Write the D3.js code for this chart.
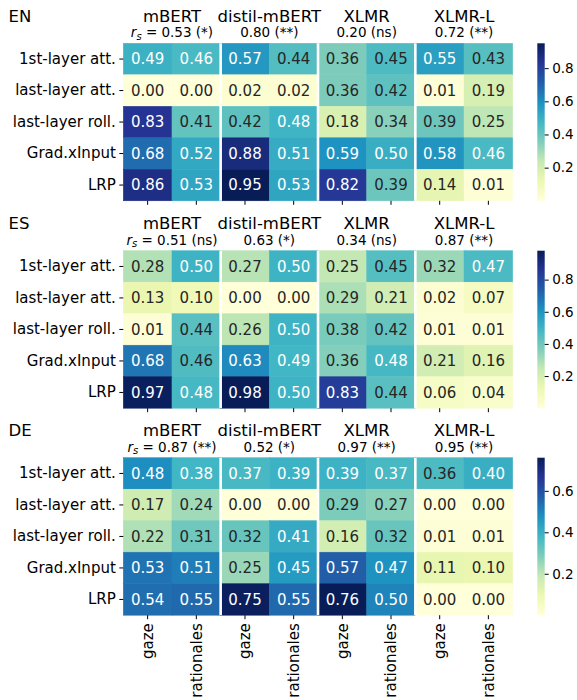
<!DOCTYPE html>
<html>
<head>
<meta charset="utf-8">
<script src="https://cdn.jsdelivr.net/npm/d3@7"></script>
<style>
  body { margin: 0; background: #fff; }
  svg { display: block; font-family: "DejaVu Sans", sans-serif; }
</style>
</head>
<body>
<svg id="chart" width="577" height="700"></svg>
<script>
// Agreement between attribution methods and human importance (gaze / rationales)
const languages = ["EN", "ES", "DE"];
const models = ["mBERT", "distil-mBERT", "XLMR", "XLMR-L"];
const sources = ["gaze", "rationales"];
const methods = ["1st-layer att.", "last-layer att.", "last-layer roll.", "Grad.xInput", "LRP"];

// one row per method, columns: model x source
const valuesEN = [
  [0.49, 0.46, 0.57, 0.44, 0.36, 0.45, 0.55, 0.43],
  [0.00, 0.00, 0.02, 0.02, 0.36, 0.42, 0.01, 0.19],
  [0.83, 0.41, 0.42, 0.48, 0.18, 0.34, 0.39, 0.25],
  [0.68, 0.52, 0.88, 0.51, 0.59, 0.50, 0.58, 0.46],
  [0.86, 0.53, 0.95, 0.53, 0.82, 0.39, 0.14, 0.01]
];
const valuesES = [
  [0.28, 0.50, 0.27, 0.50, 0.25, 0.45, 0.32, 0.47],
  [0.13, 0.10, 0.00, 0.00, 0.29, 0.21, 0.02, 0.07],
  [0.01, 0.44, 0.26, 0.50, 0.38, 0.42, 0.01, 0.01],
  [0.68, 0.46, 0.63, 0.49, 0.36, 0.48, 0.21, 0.16],
  [0.97, 0.48, 0.98, 0.50, 0.83, 0.44, 0.06, 0.04]
];
const valuesDE = [
  [0.48, 0.38, 0.37, 0.39, 0.39, 0.37, 0.36, 0.40],
  [0.17, 0.24, 0.00, 0.00, 0.29, 0.27, 0.00, 0.00],
  [0.22, 0.31, 0.32, 0.41, 0.16, 0.32, 0.01, 0.01],
  [0.53, 0.51, 0.25, 0.45, 0.57, 0.47, 0.11, 0.10],
  [0.54, 0.55, 0.75, 0.55, 0.76, 0.50, 0.00, 0.00]
];

// Spearman correlation between gaze and rationale rankings, per model
const correlationsEN = ["0.53 (*)", "0.80 (**)", "0.20 (ns)", "0.72 (**)"];
const correlationsES = ["0.51 (ns)", "0.63 (*)", "0.34 (ns)", "0.87 (**)"];
const correlationsDE = ["0.87 (**)", "0.52 (*)", "0.97 (**)", "0.95 (**)"];

const colorbarTicks = [0.2, 0.4, 0.6, 0.8];
const ylgnbu = ["#ffffd9", "#edf8b1", "#c7e9b4", "#7fcdbb", "#41b6c4",
                "#1d91c0", "#225ea8", "#253494", "#081d58"];

const panels = [
  { lang: languages[0], values: valuesEN, corr: correlationsEN },
  { lang: languages[1], values: valuesES, corr: correlationsES },
  { lang: languages[2], values: valuesDE, corr: correlationsDE }
];

// layout
const heatLeft = 123.3, heatRight = 512.7, heatH = 157.5;
const panelTops = [43.3, 250.7, 457.7];
const cbLeft = 537.3, cbW = 7.4;
const textDark = "#262626";

const svg = d3.select("#chart");
const defs = svg.append("defs");

const columns = [];
models.forEach(m => sources.forEach(s => columns.push(m + "|" + s)));

const x = d3.scaleBand().domain(columns).range([heatLeft, heatRight]).padding(0);
const groupX = d3.scaleBand().domain(models).range([heatLeft, heatRight]).padding(0);

// relative luminance, used to pick a readable annotation colour
function luminance(c) {
  const rgb = d3.rgb(c);
  const lin = v => { v /= 255; return v <= 0.03928 ? v / 12.92 : Math.pow((v + 0.055) / 1.055, 2.4); };
  return 0.2126 * lin(rgb.r) + 0.7152 * lin(rgb.g) + 0.0722 * lin(rgb.b);
}

panels.forEach((p, pi) => {
  const top = panelTops[pi];
  const g = svg.append("g");
  const y = d3.scaleBand().domain(methods).range([top, top + heatH]).padding(0);

  const flat = p.values.flat();
  const vmin = d3.min(flat), vmax = d3.max(flat);
  const color = d3.scaleLinear()
    .domain(ylgnbu.map((_, i) => vmin + i / (ylgnbu.length - 1) * (vmax - vmin)))
    .range(ylgnbu)
    .interpolate(d3.interpolateRgb)
    .clamp(true);

  const cells = [];
  p.values.forEach((row, ri) => row.forEach((v, ci) => cells.push({ method: methods[ri], col: columns[ci], v })));

  g.selectAll("rect.cell").data(cells).join("rect")
    .attr("class", "cell")
    .attr("x", d => x(d.col))
    .attr("y", d => y(d.method))
    .attr("width", x.bandwidth())
    .attr("height", y.bandwidth())
    .attr("fill", d => color(d.v))
    .attr("stroke", d => color(d.v))
    .attr("stroke-width", 0.5);

  g.selectAll("text.val").data(cells).join("text")
    .attr("class", "val")
    .attr("x", d => x(d.col) + x.bandwidth() / 2)
    .attr("y", d => y(d.method) + y.bandwidth() / 2)
    .attr("dy", "0.36em")
    .attr("text-anchor", "middle")
    .attr("font-size", 15)
    .attr("fill", d => luminance(color(d.v)) > 0.408 ? textDark : "#ffffff")
    .text(d => d3.format(".2f")(d.v));

  // white separators between model groups
  g.selectAll("line.sep").data(models.slice(1)).join("line")
    .attr("class", "sep")
    .attr("x1", d => groupX(d)).attr("x2", d => groupX(d))
    .attr("y1", top).attr("y2", top + heatH)
    .attr("stroke", "#fff").attr("stroke-width", 2.6);

  // row axis
  const yAxis = g.append("g")
    .attr("transform", `translate(${heatLeft},0)`)
    .call(d3.axisLeft(y).tickSize(4).tickPadding(3.5));
  yAxis.select(".domain").remove();
  yAxis.selectAll("line").attr("stroke", "#000");
  yAxis.selectAll("text").attr("font-size", 15).attr("fill", "#000")
    .attr("font-family", "DejaVu Sans, sans-serif");

  // column axis (labels only on the last panel)
  const last = pi === panels.length - 1;
  const xAxis = g.append("g")
    .attr("transform", `translate(0,${top + heatH})`)
    .call(d3.axisBottom(x).tickSize(4).tickFormat(d => last ? d.split("|")[1] : ""));
  xAxis.select(".domain").remove();
  xAxis.selectAll("line").attr("stroke", "#000");
  xAxis.selectAll("text")
    .attr("font-size", 15).attr("fill", "#000")
    .attr("font-family", "DejaVu Sans, sans-serif")
    .attr("transform", "rotate(-90)")
    .attr("text-anchor", "end")
    .attr("x", -8).attr("y", 0).attr("dy", "0.35em");

  // language label
  g.append("text")
    .attr("x", 8.5).attr("y", top - 21.5)
    .attr("font-size", 16.5).attr("fill", "#000")
    .text(p.lang);

  // model titles and correlations
  models.forEach((m, mi) => {
    const cx = groupX(m) + groupX.bandwidth() / 2;
    g.append("text")
      .attr("x", cx).attr("y", top - 21.5)
      .attr("text-anchor", "middle")
      .attr("font-size", 16.5).attr("fill", "#000")
      .text(m);
    const sub = g.append("text")
      .attr("x", cx).attr("y", top - 6)
      .attr("text-anchor", "middle")
      .attr("font-size", 13.5).attr("fill", "#000");
    if (mi === 0) {
      sub.append("tspan").attr("font-style", "italic").text("r");
      sub.append("tspan").attr("font-size", 10).attr("font-style", "italic").attr("dy", 2.5).text("s");
      sub.append("tspan").attr("dy", -2.5).text(" = " + p.corr[mi]);
    } else {
      sub.text(p.corr[mi]);
    }
  });

  // colorbar
  const gradId = "cb" + pi;
  const grad = defs.append("linearGradient").attr("id", gradId)
    .attr("x1", 0).attr("y1", 1).attr("x2", 0).attr("y2", 0);
  ylgnbu.forEach((c, i) => grad.append("stop")
    .attr("offset", i / (ylgnbu.length - 1)).attr("stop-color", c));
  g.append("rect")
    .attr("x", cbLeft).attr("y", top)
    .attr("width", cbW).attr("height", heatH)
    .attr("fill", `url(#${gradId})`);
  const cbScale = d3.scaleLinear().domain([vmin, vmax]).range([top + heatH, top]);
  const cbAxis = g.append("g")
    .attr("transform", `translate(${cbLeft + cbW},0)`)
    .call(d3.axisRight(cbScale)
      .tickValues(colorbarTicks.filter(t => t >= vmin && t <= vmax))
      .tickSize(4).tickPadding(3.5).tickFormat(d3.format(".1f")));
  cbAxis.select(".domain").remove();
  cbAxis.selectAll("line").attr("stroke", "#000");
  cbAxis.selectAll("text").attr("font-size", 13.5).attr("fill", "#000")
    .attr("font-family", "DejaVu Sans, sans-serif");
});
</script>
</body>
</html>
